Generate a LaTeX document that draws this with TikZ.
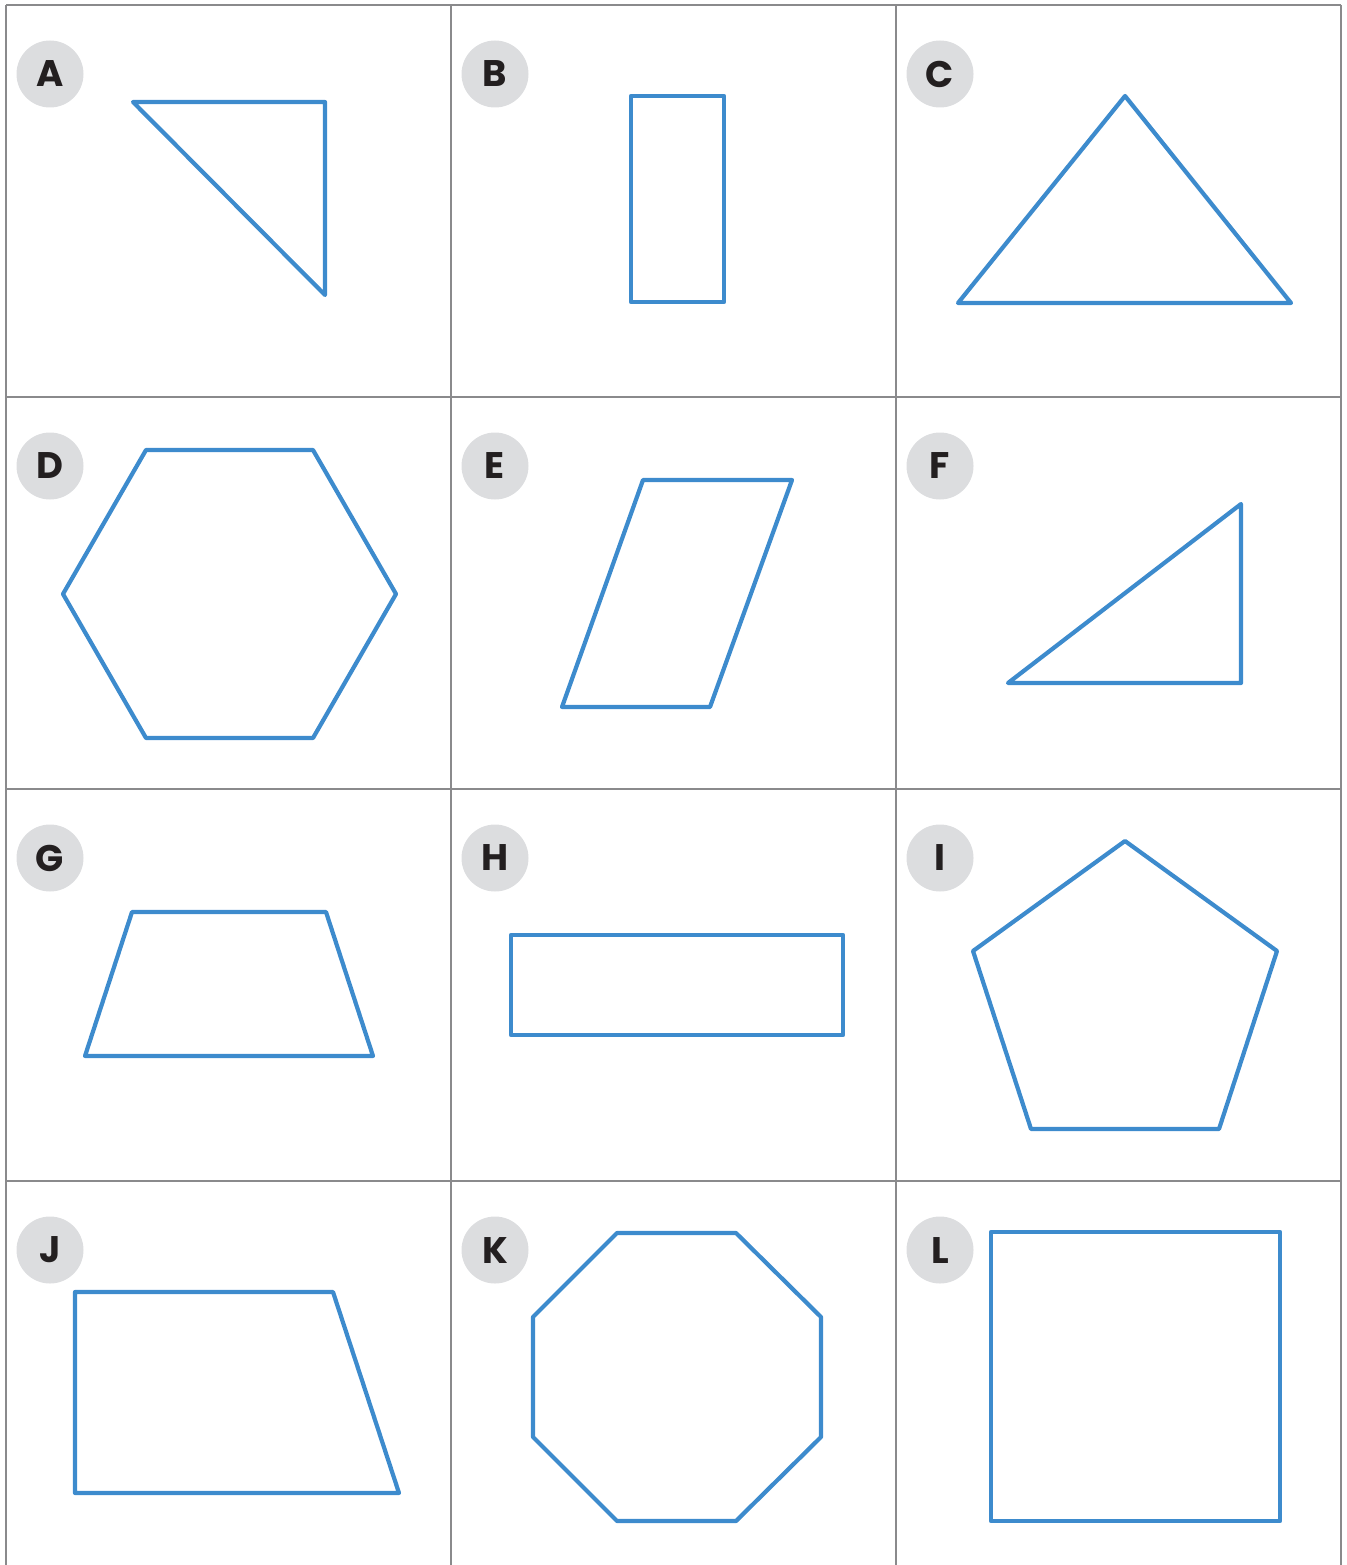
\documentclass[tikz,border=0pt]{standalone}
\usepackage{fontspec}
\setmainfont{Poppins}
\definecolor{shape}{HTML}{3D8BCD}
\definecolor{grid}{HTML}{8A8A8C}
\definecolor{badge}{HTML}{DCDDDF}
\definecolor{txt}{HTML}{231F20}
\tikzset{
  cell/.style={draw=grid, line width=2pt},
  s/.style={draw=shape, line width=4.2pt, line join=round, line cap=round},
  tag/.style={circle, fill=badge, minimum size=67pt, inner sep=0pt,
    font=\fontsize{37}{37}\selectfont\bfseries, text=txt},
}
\begin{document}
\begin{tikzpicture}[x=1pt, y=-1pt]
  \useasboundingbox (0,0) rectangle (1346,1565);
  % grid
  \foreach \x in {6,451,896,1341} \draw[cell] (\x,5) -- (\x,1565);
  \foreach \y in {5,397,789,1181} \draw[cell] (6,\y) -- (1341,\y);

  % letter badges
  \foreach \l/\x/\y in {A/50/74, B/495/74, C/940/74, D/50/466, E/495/466, F/940/466,
                        G/50/858, H/495/858, I/940/858, J/50/1250, K/495/1250, L/940/1250}
    \node[tag] (tag\l) at (\x,\y) {\l};

  % row 1
  \draw[s] (133,102) -- (325,102) -- (325,295) -- cycle;
  \draw[s] (631,96) rectangle (724,302);
  \draw[s] (958,303) -- (1125,96) -- (1291,303) -- cycle;
  % row 2
  \draw[s] (146,450) -- (313,450) -- (396,594) -- (313,738) -- (146,738) -- (63,594) -- cycle;
  \draw[s] (643,480) -- (792,480) -- (710,707) -- (562,707) -- cycle;
  \draw[s] (1008,683) -- (1241,683) -- (1241,504) -- cycle;
  % row 3
  \draw[s] (132,912) -- (326,912) -- (373,1056) -- (85,1056) -- cycle;
  \draw[s] (511,935) rectangle (843,1035);
  \draw[s] (1125,841) -- (1277,951) -- (1219,1129) -- (1031,1129) -- (973,951) -- cycle;
  % row 4
  \draw[s] (75,1292) -- (333,1292) -- (399,1493) -- (75,1493) -- cycle;
  \draw[s] (617,1233) -- (736,1233) -- (821,1317) -- (821,1437) -- (736,1521)
    -- (617,1521) -- (533,1437) -- (533,1317) -- cycle;
  \draw[s] (991,1232) rectangle (1280,1521);
\end{tikzpicture}
\end{document}
